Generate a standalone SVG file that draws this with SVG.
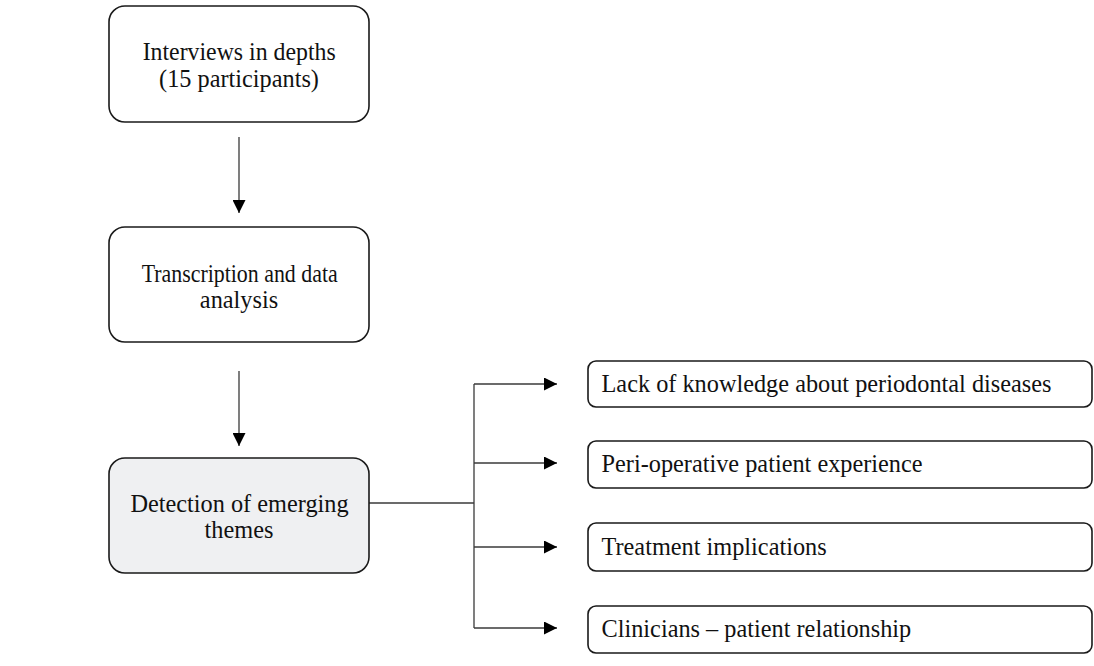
<svg xmlns="http://www.w3.org/2000/svg" width="1094" height="666" viewBox="0 0 1094 666">
<style>
  .box { fill: #ffffff; stroke: #1a1a1a; stroke-width: 1.6; }
  .box.hl { fill: #eff0f2; }
  .t { font-family: "Liberation Serif", "Times New Roman", serif; font-size: 24.3px; fill: #111111; }
  .c { text-anchor: middle; }
  .conn { stroke: #3a3a3a; stroke-width: 1.3; fill: none; }
</style>
<defs>
  <marker id="ah" markerUnits="userSpaceOnUse" markerWidth="13" markerHeight="13" refX="13" refY="6.5" orient="auto">
    <path d="M0,0 L13,6.5 L0,13 Z" fill="#000000"/>
  </marker>
</defs>
<rect width="1094" height="666" fill="#ffffff"/>

<g id="connectors">
  <line class="conn" x1="239" y1="137" x2="239" y2="213" marker-end="url(#ah)"/>
  <line class="conn" x1="239" y1="371" x2="239" y2="446" marker-end="url(#ah)"/>
  <polyline class="conn" points="369,503 474,503"/>
  <polyline class="conn" points="474,384 474,628"/>
  <line class="conn" x1="474" y1="384" x2="557" y2="384" marker-end="url(#ah)"/>
  <line class="conn" x1="474" y1="463" x2="557" y2="463" marker-end="url(#ah)"/>
  <line class="conn" x1="474" y1="547" x2="557" y2="547" marker-end="url(#ah)"/>
  <line class="conn" x1="474" y1="628" x2="557" y2="628" marker-end="url(#ah)"/>
</g>

<g id="node-interviews">
  <rect class="box" x="109" y="6" width="260" height="116" rx="16"/>
  <text class="t" x="142.7" y="60" textLength="193" lengthAdjust="spacingAndGlyphs">Interviews in depths</text>
  <text class="t c" x="239" y="86.5">(15 participants)</text>
</g>

<g id="node-transcription">
  <rect class="box" x="109" y="227" width="260" height="115" rx="16"/>
  <text class="t" x="141.7" y="281.5" textLength="196" lengthAdjust="spacingAndGlyphs">Transcription and data</text>
  <text class="t c" x="239" y="308">analysis</text>
</g>

<g id="node-detection">
  <rect class="box hl" x="109" y="458" width="260" height="115" rx="16"/>
  <text class="t c" x="239.5" y="511.5">Detection of emerging</text>
  <text class="t c" x="239" y="538">themes</text>
</g>

<g id="node-lack">
  <rect class="box" x="588" y="361" width="504" height="46" rx="8"/>
  <text class="t" x="601.5" y="392">Lack of knowledge about periodontal diseases</text>
</g>

<g id="node-perioperative">
  <rect class="box" x="588" y="441" width="504" height="47" rx="8"/>
  <text class="t" x="601.5" y="471.5">Peri-operative patient experience</text>
</g>

<g id="node-treatment">
  <rect class="box" x="588" y="523" width="504" height="48" rx="8"/>
  <text class="t" x="601.5" y="555">Treatment implications</text>
</g>

<g id="node-clinicians">
  <rect class="box" x="588" y="606" width="504" height="47" rx="8"/>
  <text class="t" x="601.5" y="637">Clinicians – patient relationship</text>
</g>
</svg>
